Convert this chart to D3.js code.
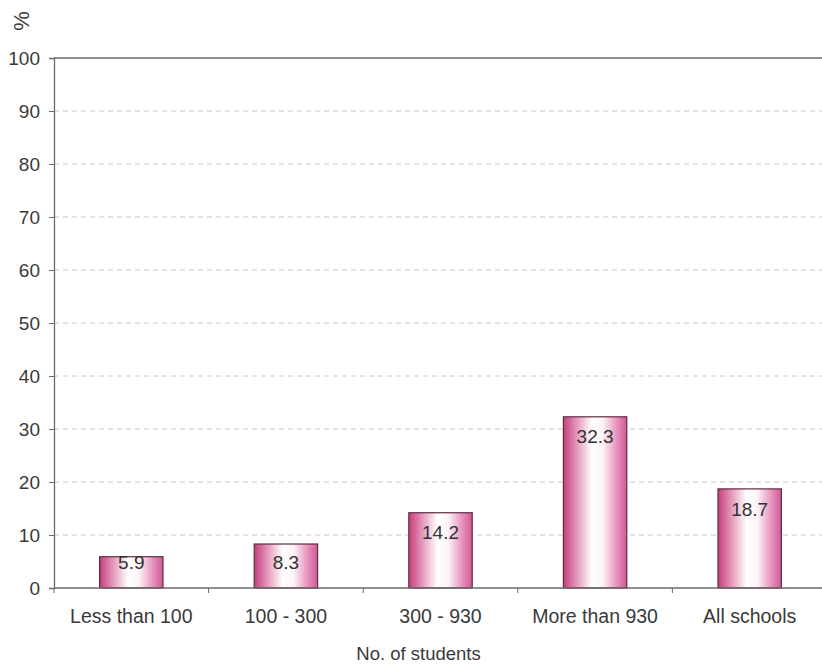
<!DOCTYPE html>
<html>
<head>
<meta charset="utf-8">
<script src="https://cdn.jsdelivr.net/npm/d3@7/dist/d3.min.js"></script>
<style>
  html, body { margin: 0; padding: 0; background: #fff; }
  svg { display: block; font-family: "Liberation Sans", Arial, sans-serif; }
</style>
</head>
<body>
<svg id="chart" width="822" height="665"></svg>
<script>
// Share of schools by size (number of students), in percent
const categories = ["Less than 100", "100 - 300", "300 - 930", "More than 930", "All schools"];
const values = [5.9, 8.3, 14.2, 32.3, 18.7];
const yTicks = [0, 10, 20, 30, 40, 50, 60, 70, 80, 90, 100];
const xTitle = "No. of students";
const yTitle = "%";

const svg = d3.select("#chart");
const margin = { left: 54, top: 58, right: 827, bottom: 588 };

const x = d3.scaleBand()
  .domain(categories)
  .range([margin.left, margin.right])
  .paddingInner(0.59)
  .paddingOuter(0.295);

const y = d3.scaleLinear().domain([0, 100]).range([margin.bottom, margin.top]);

// Pink cylinder-like shading across each bar
const defs = svg.append("defs");
const grad = defs.append("linearGradient").attr("id", "barFill")
  .attr("x1", "0%").attr("x2", "100%").attr("y1", "0%").attr("y2", "0%");
grad.append("stop").attr("offset", "0%").attr("stop-color", "#c23f7c");
grad.append("stop").attr("offset", "18%").attr("stop-color", "#e08ab2");
grad.append("stop").attr("offset", "45%").attr("stop-color", "#ffffff");
grad.append("stop").attr("offset", "62%").attr("stop-color", "#fdf4f8");
grad.append("stop").attr("offset", "85%").attr("stop-color", "#e68fba");
grad.append("stop").attr("offset", "100%").attr("stop-color", "#cf5a93");

// Horizontal dashed gridlines
svg.append("g")
  .selectAll("line")
  .data(yTicks.filter(d => d > 0 && d < 100))
  .join("line")
  .attr("x1", margin.left).attr("x2", margin.right)
  .attr("y1", d => y(d)).attr("y2", d => y(d))
  .attr("stroke", "#c8c8c8")
  .attr("stroke-width", 1)
  .attr("stroke-dasharray", "5,4");

// Top border of the plot area
svg.append("line")
  .attr("x1", margin.left).attr("x2", margin.right)
  .attr("y1", y(100)).attr("y2", y(100))
  .attr("stroke", "#6a6a6a").attr("stroke-width", 1.3);

// Y axis
const yAxis = d3.axisLeft(y).tickValues(yTicks).tickSize(5).tickPadding(9);
const gy = svg.append("g").attr("transform", `translate(${margin.left},0)`).call(yAxis);
gy.select(".domain").attr("stroke", "#6a6a6a").attr("stroke-width", 1.3);
gy.selectAll(".tick line").attr("stroke", "#6a6a6a");
gy.selectAll(".tick text")
  .attr("font-size", 19).attr("fill", "#3a3a3a")
  .attr("font-family", "Liberation Sans, Arial, sans-serif");

// Bars
svg.append("g")
  .selectAll("rect")
  .data(values)
  .join("rect")
  .attr("x", (d, i) => x(categories[i]))
  .attr("width", x.bandwidth())
  .attr("y", d => y(d))
  .attr("height", d => y(0) - y(d))
  .attr("fill", "url(#barFill)")
  .attr("stroke", "#5e2c40")
  .attr("stroke-width", 1.2);

// X axis with tick marks between categories
const edges = categories.map((c, i) => margin.left + i * x.step()).concat([margin.left + categories.length * x.step()]);
svg.append("line")
  .attr("x1", margin.left).attr("x2", margin.right)
  .attr("y1", y(0)).attr("y2", y(0))
  .attr("stroke", "#6a6a6a").attr("stroke-width", 1.3);
svg.append("g").selectAll("line")
  .data(edges)
  .join("line")
  .attr("x1", d => d).attr("x2", d => d)
  .attr("y1", y(0)).attr("y2", y(0) + 5)
  .attr("stroke", "#6a6a6a");

svg.append("g").selectAll("text")
  .data(categories)
  .join("text")
  .attr("x", d => x(d) + x.bandwidth() / 2)
  .attr("y", y(0) + 35)
  .attr("text-anchor", "middle")
  .attr("font-size", 19.5)
  .attr("fill", "#3a3a3a")
  .text(d => d);

// Value labels just inside the top of each bar
svg.append("g").selectAll("text")
  .data(values)
  .join("text")
  .attr("x", (d, i) => x(categories[i]) + x.bandwidth() / 2)
  .attr("y", d => Math.min(y(d) + 20, y(0) - 26))
  .attr("dy", "0.35em")
  .attr("text-anchor", "middle")
  .attr("font-size", 19)
  .attr("fill", "#333")
  .text(d => d.toFixed(1));

// Axis titles
svg.append("text")
  .attr("x", (margin.left + margin.right) / 2 - 22)
  .attr("y", 660)
  .attr("text-anchor", "middle")
  .attr("font-size", 18.5)
  .attr("fill", "#3a3a3a")
  .text(xTitle);

svg.append("text")
  .attr("transform", "translate(29,21) rotate(-90)")
  .attr("text-anchor", "middle")
  .attr("font-size", 22)
  .attr("fill", "#3a3a3a")
  .text(yTitle);
</script>
</body>
</html>
